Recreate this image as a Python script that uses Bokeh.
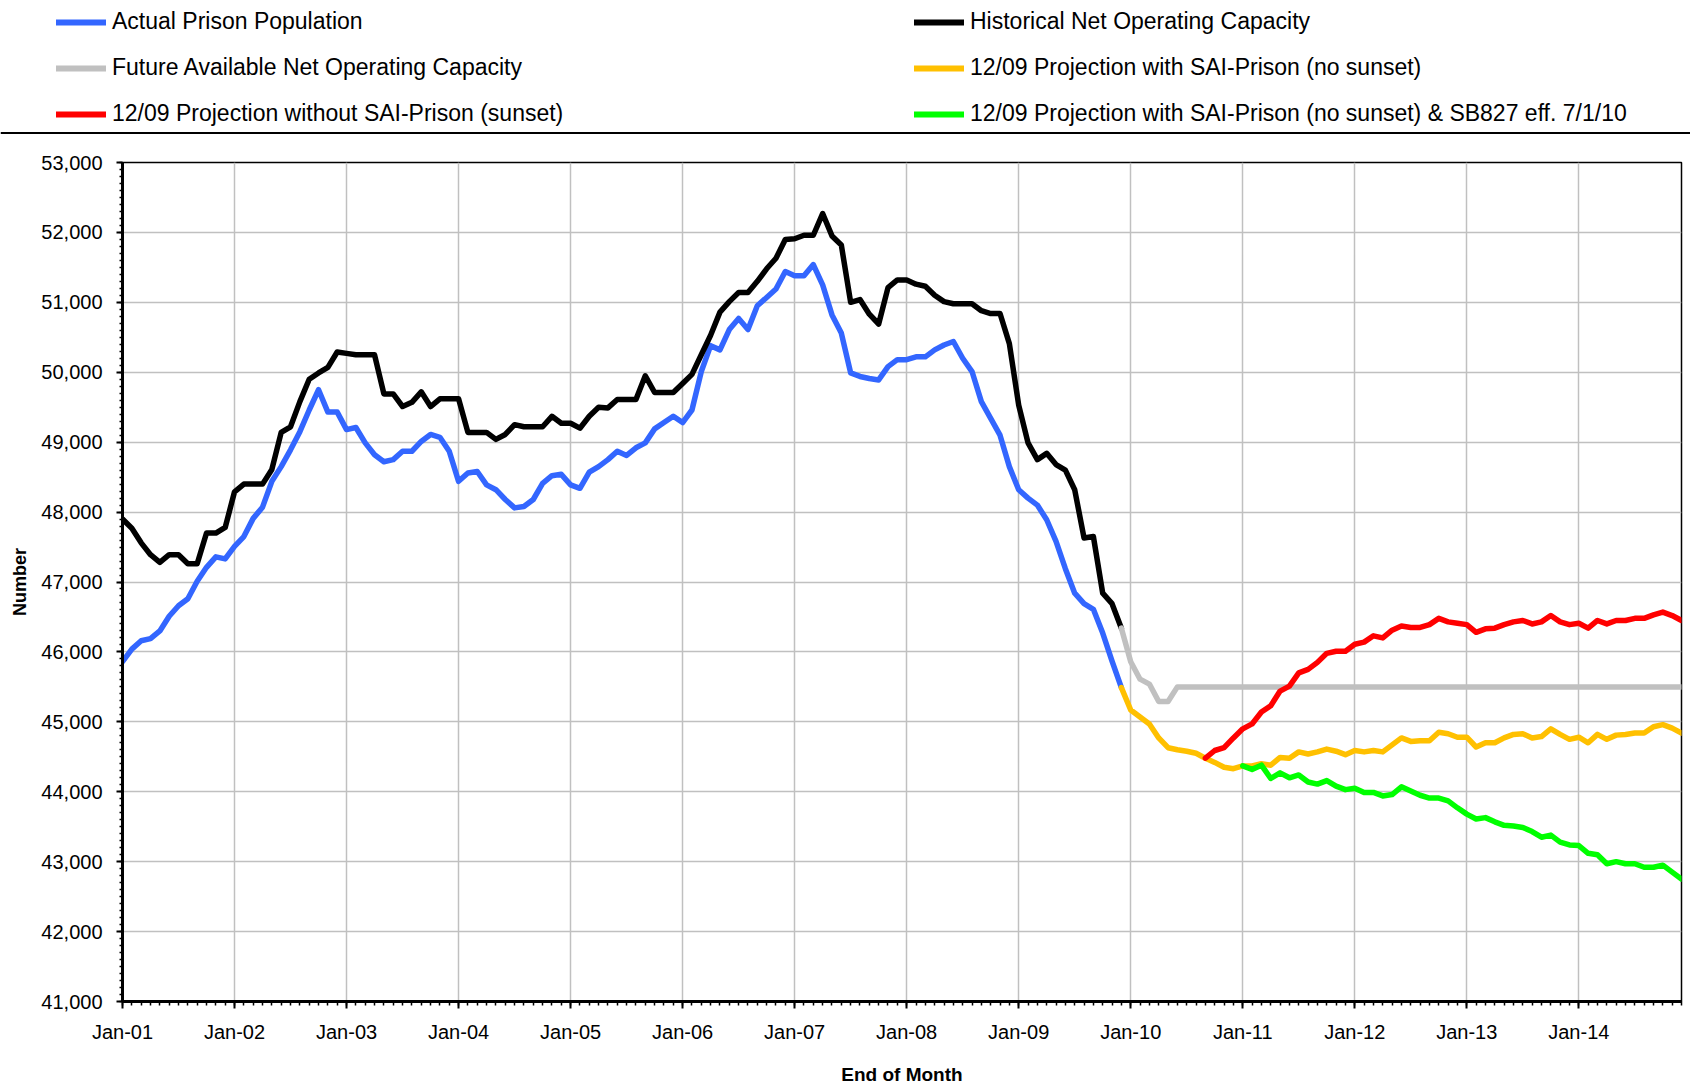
import numpy as np
from bokeh.plotting import figure
from bokeh.models import (Range1d, Legend, LegendItem, SingleIntervalTicker,
                          NumeralTickFormatter, Span)
from bokeh.embed import file_html
from bokeh.resources import INLINE

# ---------------- data ----------------
years = ["01", "02", "03", "04", "05", "06", "07", "08", "09", "10", "11", "12", "13", "14"]
month_names = ["Jan", "Feb", "Mar", "Apr", "May", "Jun", "Jul", "Aug", "Sep", "Oct", "Nov", "Dec"]
month_labels = [f"{m}-{y}" for y in years for m in month_names]   # Jan-01 .. Dec-14

# Actual Prison Population, Jan-01 .. Dec-09
actual = [45860, 46040, 46160, 46190, 46300, 46510, 46660, 46760, 47010, 47210, 47360, 47330,
          47510, 47650, 47910, 48070, 48440, 48650, 48890, 49150, 49460, 49750, 49430, 49430,
          49180, 49210, 48990, 48820, 48720, 48750, 48870, 48870, 49010, 49110, 49070, 48870,
          48440, 48560, 48580, 48390, 48320, 48180, 48060, 48080, 48180, 48410, 48520, 48540,
          48390, 48340, 48570, 48650, 48750, 48870, 48810, 48920, 48990, 49190, 49280, 49370,
          49280, 49460, 50010, 50380, 50320, 50610, 50770, 50610, 50950, 51070, 51190, 51440,
          51380, 51380, 51540, 51250, 50820, 50560, 49990, 49940, 49910, 49890, 50080, 50180,
          50180, 50220, 50220, 50320, 50390, 50440, 50200, 50010, 49580, 49340, 49100, 48650,
          48320, 48200, 48100, 47890, 47580, 47190, 46840, 46690, 46610, 46270, 45870, 45490]

# Historical Net Operating Capacity, Jan-01 .. Dec-09
hist_capacity = [47900, 47770, 47560, 47390, 47280, 47390, 47390, 47260, 47260, 47700, 47700, 47780,
                 48290, 48400, 48400, 48400, 48610, 49140, 49220, 49580, 49900, 49990, 50070, 50290,
                 50270, 50250, 50250, 50250, 49690, 49690, 49510, 49570, 49720, 49510, 49620, 49620,
                 49620, 49140, 49140, 49140, 49040, 49110, 49250, 49220, 49220, 49220, 49370, 49270,
                 49270, 49200, 49370, 49500, 49490, 49610, 49610, 49610, 49950, 49710, 49710, 49710,
                 49840, 49970, 50250, 50530, 50860, 51010, 51140, 51140, 51300, 51480, 51630, 51900,
                 51910, 51960, 51960, 52270, 51950, 51820, 51000, 51040, 50830, 50690, 51210, 51320,
                 51320, 51260, 51230, 51100, 51010, 50980, 50980, 50980, 50880, 50840, 50840, 50410,
                 49530, 48990, 48750, 48840, 48680, 48600, 48320, 47630, 47650, 46840, 46690, 46340]

# Future Available Net Operating Capacity, Dec-09 .. Dec-14
future_capacity = [46340, 45860, 45610, 45540, 45290, 45290] + [45500] * 55

# 12/09 Projection with SAI-Prison (no sunset), Dec-09 .. Dec-14
proj_sai = [45490, 45170, 45070, 44970, 44770, 44630, 44600, 44580, 44550, 44480, 44420, 44350,
            44330, 44370, 44370, 44400, 44380, 44490, 44480, 44570, 44540, 44570, 44610, 44580,
            44530, 44590, 44570, 44590, 44570, 44670, 44770, 44720, 44730, 44730, 44850, 44830,
            44780, 44780, 44640, 44700, 44700, 44770, 44820, 44830, 44770, 44790, 44900, 44820,
            44750, 44780, 44700, 44820, 44750, 44810, 44820, 44840, 44840, 44930, 44960, 44910,
            44840]

# 12/09 Projection without SAI-Prison (sunset), Sep-10 .. Dec-14
proj_no_sai = [44480, 44590, 44630, 44770, 44900, 44970, 45140, 45230, 45440, 45510, 45700, 45750,
               45850, 45980, 46010, 46010, 46110, 46140, 46230, 46200, 46310, 46370, 46350, 46350,
               46390, 46480, 46430, 46410, 46390, 46280, 46330, 46340, 46390, 46430, 46450, 46400,
               46430, 46520, 46430, 46390, 46410, 46340, 46450, 46400, 46450, 46450, 46480, 46480,
               46530, 46570, 46520, 46450]

# 12/09 Projection with SAI-Prison (no sunset) & SB827 eff. 7/1/10, Jan-11 .. Dec-14
proj_sb827 = [44370, 44320, 44380, 44190, 44270, 44200, 44240, 44140, 44110, 44160, 44080, 44030,
              44050, 43990, 43990, 43940, 43960, 44070, 44010, 43950, 43910, 43910, 43870, 43770,
              43680, 43610, 43630, 43570, 43520, 43510, 43490, 43430, 43350, 43380, 43280, 43240,
              43230, 43120, 43100, 42970, 43000, 42970, 42970, 42920, 42920, 42950, 42850, 42750]

series = [
    ("Actual Prison Population", "Jan-01", actual, "#3366FF"),
    ("Historical Net Operating Capacity", "Jan-01", hist_capacity, "#000000"),
    ("Future Available Net Operating Capacity", "Dec-09", future_capacity, "#C0C0C0"),
    ("12/09 Projection with SAI-Prison (no sunset)", "Dec-09", proj_sai, "#FFC000"),
    ("12/09 Projection without SAI-Prison (sunset)", "Sep-10", proj_no_sai, "#FF0000"),
    ("12/09 Projection with SAI-Prison (no sunset) & SB827 eff. 7/1/10", "Jan-11", proj_sb827, "#00FF00"),
]

FONT = "Liberation Sans"
W = 1690
LEG_H = 134
MAIN_H = 953
LW = 5.5

# ---------------- main chart ----------------
p = figure(width=W, height=MAIN_H, output_backend="svg", toolbar_location=None, title=None,
           x_range=Range1d(0, len(month_labels) - 1), y_range=Range1d(41000, 53000),
           min_border_left=122, min_border_right=9, min_border_top=28, min_border_bottom=85)

for name, start, vals, color in series:
    i0 = month_labels.index(start)
    xs = np.arange(i0, i0 + len(vals))
    p.line(xs, vals, line_color=color, line_width=LW, line_join="round", line_cap="round")

p.outline_line_color = "black"
p.outline_line_width = 1.5
p.background_fill_color = "white"
p.border_fill_color = "white"

p.grid.grid_line_color = "#C0C0C0"
p.grid.grid_line_width = 1.5

xt = SingleIntervalTicker(interval=12, num_minor_ticks=12)
p.xaxis.ticker = xt
p.xgrid.ticker = xt
p.xaxis.major_label_overrides = {i: month_labels[i] for i in range(0, len(month_labels), 12)}
yt = SingleIntervalTicker(interval=1000, num_minor_ticks=10)
p.yaxis.ticker = yt
p.ygrid.ticker = yt
p.yaxis.formatter = NumeralTickFormatter(format="0,0")

for ax in (p.xaxis[0], p.yaxis[0]):
    ax.axis_line_color = "black"
    ax.axis_line_width = 3
    ax.major_tick_line_color = "black"
    ax.major_tick_line_width = 2
    ax.minor_tick_line_color = "black"
    ax.minor_tick_line_width = 1.5
    ax.major_tick_in = 0
    ax.minor_tick_in = 0
    ax.major_label_text_font = FONT
    ax.major_label_text_font_size = "20px"
    ax.major_label_text_color = "black"
    ax.axis_label_text_font = FONT
    ax.axis_label_text_font_style = "bold"
    ax.axis_label_text_color = "black"

p.xaxis.axis_label = "End of Month"
p.xaxis.axis_label_text_font_size = "19px"
p.xaxis.major_tick_out = 7
p.xaxis.minor_tick_out = 4
p.xaxis.major_label_standoff = 12
p.xaxis.axis_label_standoff = 18
p.yaxis.axis_label = "Number"
p.yaxis.axis_label_text_font_size = "18px"
p.yaxis.major_tick_out = 6
p.yaxis.minor_tick_out = 3
p.yaxis.major_label_standoff = 14
p.yaxis.axis_label_standoff = 8

# ---------------- legend strip above the chart ----------------
leg = figure(width=W, height=LEG_H, output_backend="svg", toolbar_location=None, title=None,
             x_range=Range1d(0, W), y_range=Range1d(0, LEG_H),
             x_axis_type=None, y_axis_type=None, min_border=0)
leg.grid.visible = False
leg.outline_line_color = None
leg.background_fill_color = "white"
leg.border_fill_color = "white"

# legend-only line renderers (no visible data), styled like the chart series
swatch = {}
for name, start, vals, color in series:
    swatch[name] = leg.line(x=np.array([np.nan, np.nan]), y=np.array([np.nan, np.nan]),
                            line_color=color, line_width=6, line_cap="round")

def make_legend(names, x):
    return Legend(
        items=[LegendItem(label=n, renderers=[swatch[n]]) for n in names],
        location=(x, 7), orientation="vertical",
        glyph_width=50, glyph_height=26, label_height=26, label_standoff=6,
        spacing=19, padding=0, margin=0,
        border_line_color=None, background_fill_alpha=0,
        label_text_font=FONT, label_text_font_size="23px", label_text_color="black",
    )

names = [s[0] for s in series]
leg.add_layout(make_legend([names[0], names[2], names[4]], 56))
leg.add_layout(make_legend([names[1], names[3], names[5]], 914))
leg.add_layout(Span(location=1.4, dimension="width", line_color="black", line_width=2))

open("out.html", "w").write(file_html([leg, p], INLINE))
